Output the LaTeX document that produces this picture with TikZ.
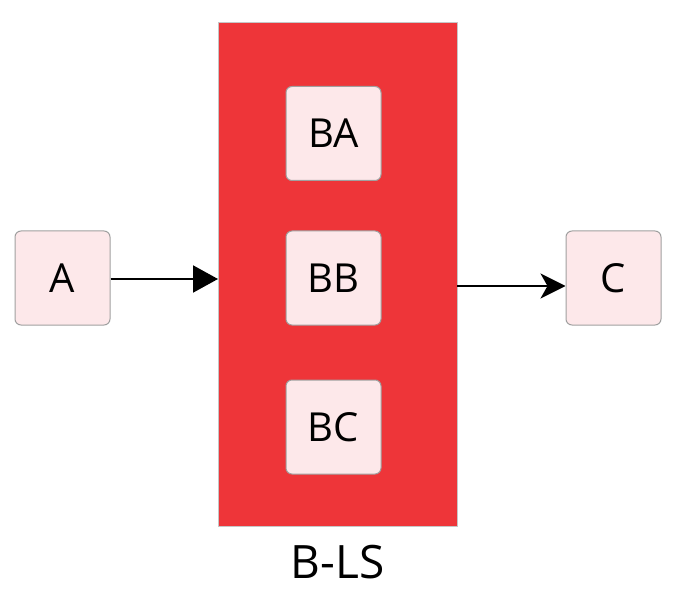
\documentclass[tikz,border=0pt]{standalone}
\usepackage{fontspec}
\setmainfont{Open Sans}
\usetikzlibrary{arrows.meta}
\definecolor{bigred}{HTML}{EE3539}
\definecolor{boxfill}{HTML}{FDE8EA}
\definecolor{boxline}{HTML}{A0A0A0}
\tikzset{
  smallbox/.style={draw=boxline, line width=1pt, fill=boxfill, rounded corners=6pt,
    minimum width=95pt, minimum height=94pt, inner sep=0pt, font=\fontsize{40}{42}\selectfont},
  conn/.style={line width=2pt, black}
}
\begin{document}
\begin{tikzpicture}[x=1pt,y=-1pt]
\useasboundingbox (0,0) rectangle (678,599);
\node[draw=boxline!60, line width=1pt, fill=bigred, minimum width=239pt, minimum height=503pt, inner sep=0pt] (B) at (337.5,274.5) {};
\node[smallbox] (BA) at (333.5,133.5) {BA};
\node[smallbox] (BB) at (333.5,278) {BB};
\node[smallbox] (BC) at (333.5,427) {BC};
\node[smallbox] (A) at (62.5,278) {A};
\node[smallbox] (C) at (613.5,278) {C};
\node[font=\fontsize{46}{48}\selectfont] (L) at (337.5,562) {B-LS};
\coordinate (a1) at (110,279);
\coordinate (b1) at (218,279);
\coordinate (b2) at (457,286);
\coordinate (c2) at (566,286);
\draw[conn, -{Triangle[length=25pt,width=27pt]}] (A.east |- a1) -- (b1);
\draw[conn, -{Stealth[length=25pt,width=25pt,inset=7pt]}] (b2) -- (C.west |- c2);
\end{tikzpicture}
\end{document}
